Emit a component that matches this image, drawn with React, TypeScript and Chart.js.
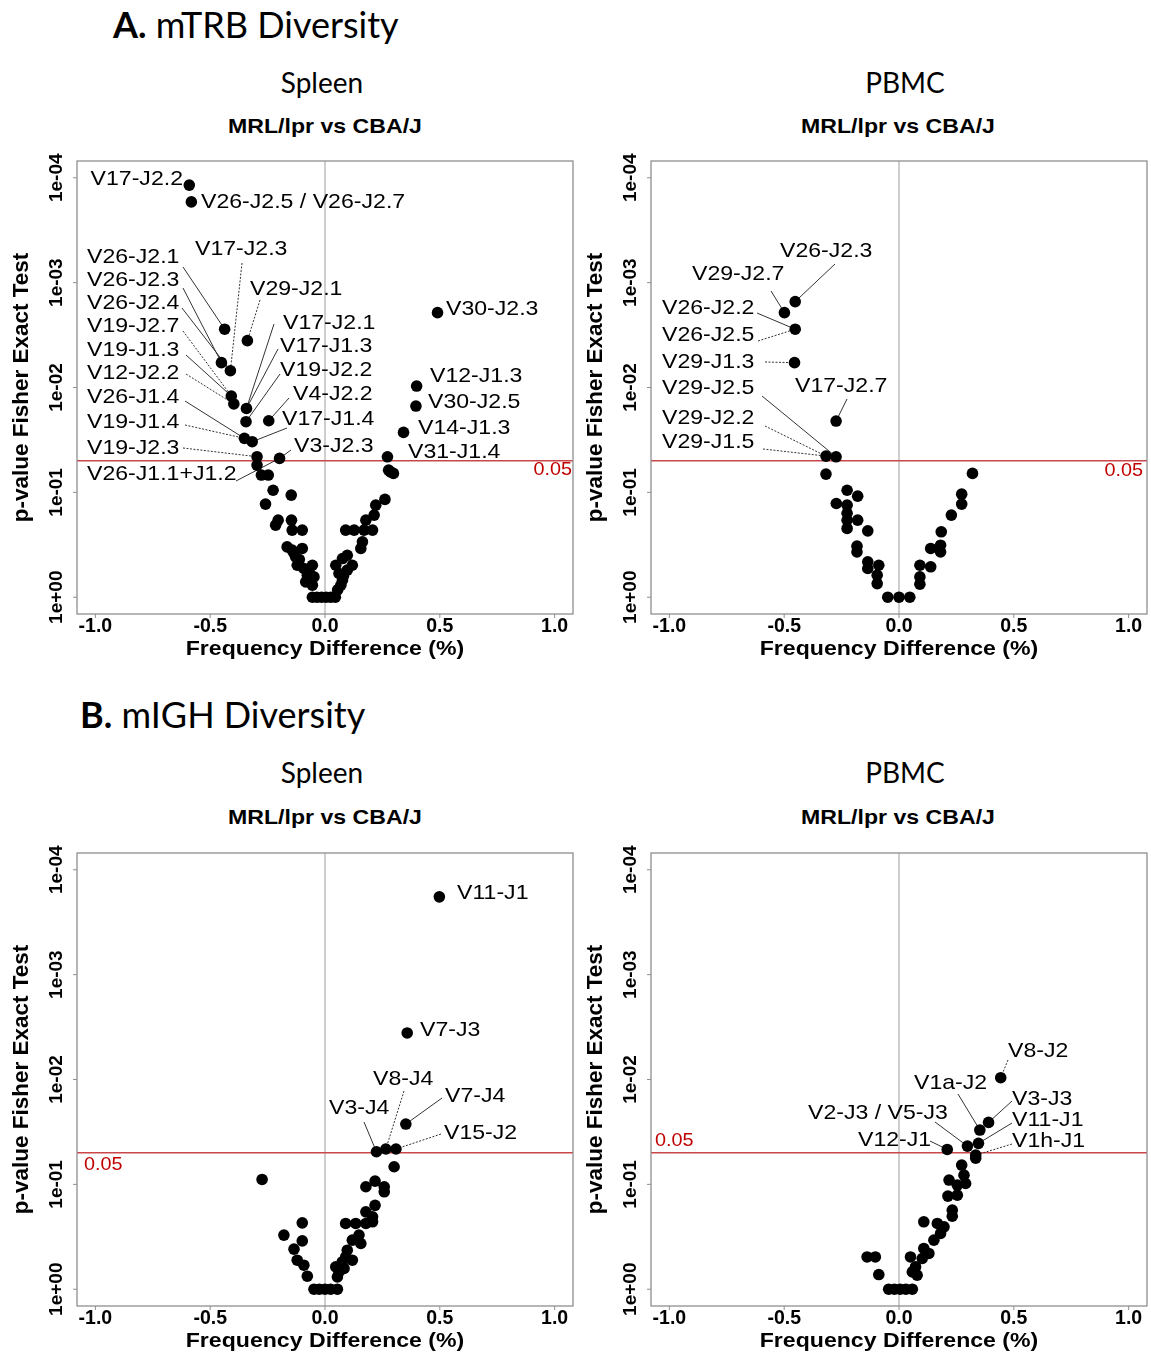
import React, { useEffect, useRef } from 'react';
import { Chart, registerables } from 'chart.js';

Chart.register(...registerables);

// ---------- axes ----------
const xTickValues = [-1, -0.5, 0, 0.5, 1];
const yTickValues = [0, 1, 2, 3, 4]; // -log10(p)
const yTickLabels = ['1e+00', '1e-01', '1e-02', '1e-03', '1e-04'];
const pThreshold = 0.05;
const xAxisTitle = 'Frequency Difference (%)';
const yAxisTitle = 'p-value Fisher Exact Test';

// ---------- A. mTRB, Spleen (frequency difference %, -log10 p) ----------
const trbSpleenDiff = [
  -0.591, -0.582, -0.437, -0.338, -0.451, -0.412, -0.408, -0.397, -0.342, -0.344,
  -0.245, -0.351, -0.317, -0.296, -0.296, -0.198, 0.49, 0.399, 0.396, 0.342, 0.272,
  -0.277, -0.247, -0.226, -0.147, -0.259, -0.204, -0.215, -0.146, -0.143, -0.099,
  -0.165, -0.143, -0.099, -0.128, -0.121, -0.092, -0.055, -0.077, -0.084, -0.048,
  -0.055, -0.112, -0.135, -0.07, -0.063,
  -0.055, -0.035, -0.015, 0.005, 0.025, 0.045,
  0.047, 0.076, 0.097, 0.119, 0.061, 0.076, 0.069, 0.097, 0.156, 0.163, 0.09, 0.127,
  0.17, 0.207, 0.178, 0.214, 0.221, 0.261, 0.277, 0.298, 0.285, 0.08, 0.055,
];
const trbSpleenNegLogP = [
  3.93, 3.77, 2.556, 2.447, 2.237, 2.16, 1.919, 1.843, 1.8, 1.674,
  1.683, 1.515, 1.483, 1.34, 1.26, 1.324, 2.714, 2.014, 1.823, 1.572, 1.339,
  1.165, 1.165, 1.02, 0.974, 0.888, 0.735, 0.687, 0.735, 0.64, 0.64,
  0.48, 0.449, 0.465, 0.385, 0.305, 0.274, 0.305, 0.21, 0.146, 0.194,
  0.115, 0.36, 0.42, 0.25, 0.16,
  0, 0, 0, 0, 0, 0,
  0.305, 0.369, 0.4, 0.305, 0.226, 0.162, 0.115, 0.258, 0.465, 0.528, 0.64, 0.64,
  0.64, 0.64, 0.735, 0.783, 0.878, 0.933, 1.212, 1.181, 1.195, 0.2, 0.07,
];

// ---------- A. mTRB, PBMC ----------
const trbPbmcDiff = [
  -0.452, -0.499, -0.452, -0.455, -0.274, -0.318, -0.274,
  -0.318, -0.226, -0.18, -0.273, -0.226, -0.226, -0.226, -0.18, -0.226, -0.136,
  -0.183, -0.183, -0.136, -0.088, -0.136, -0.095, -0.095,
  -0.049, 0, 0.047,
  0.091, 0.138, 0.091, 0.091, 0.138, 0.181, 0.181, 0.184, 0.228, 0.273, 0.273, 0.32,
];
const trbPbmcNegLogP = [
  2.819, 2.714, 2.556, 2.237, 1.68, 1.346, 1.339,
  1.174, 1.02, 0.964, 0.894, 0.878, 0.8, 0.735, 0.735, 0.656, 0.633,
  0.487, 0.432, 0.337, 0.305, 0.274, 0.21, 0.13,
  0, 0, 0,
  0.305, 0.29, 0.194, 0.124, 0.465, 0.496, 0.432, 0.624, 0.783, 0.983, 0.888, 1.181,
];

// ---------- B. mIGH, Spleen ----------
const ighSpleenDiff = [
  0.498, 0.358, 0.352, 0.224, 0.265, 0.309,
  0.301, 0.178, 0.218, 0.258, 0.258, 0.218, 0.178, 0.207, 0.207, 0.09, 0.134, 0.178,
  0.148, 0.119, 0.156, 0.097, 0.09, 0.119, 0.047, 0.061, 0.054, 0.083, 0.075,
  -0.048, -0.025, 0, 0.025, 0.054,
  -0.274, -0.099, -0.179, -0.099, -0.135, -0.121, -0.092, -0.077,
];
const ighSpleenNegLogP = [
  3.742, 2.444, 1.575, 1.311, 1.337, 1.337,
  1.168, 0.977, 1.031, 0.977, 0.929, 0.8, 0.738, 0.69, 0.643, 0.627, 0.627, 0.627,
  0.516, 0.468, 0.436, 0.372, 0.308, 0.277, 0.213, 0.165, 0.117, 0.198, 0.26,
  0, 0, 0, 0, 0,
  1.047, 0.633, 0.516, 0.461, 0.382, 0.277, 0.229, 0.124,
];

// ---------- B. mIGH, PBMC ----------
const ighPbmcDiff = [
  0.443, 0.39, 0.352, 0.346, 0.298, 0.21, 0.334,
  0.334, 0.273, 0.283, 0.218, 0.29, 0.254, 0.213, 0.254, 0.232, 0.232, 0.167, 0.108,
  0.196, 0.181, 0.152, 0.108, 0.13, 0.05, 0.101, 0.072, 0.058, 0.079,
  -0.139, -0.103, -0.088,
  -0.045, -0.02, 0.005, 0.03, 0.058,
];
const ighPbmcNegLogP = [
  2.017, 1.591, 1.518, 1.391, 1.365, 1.333, 1.279,
  1.25, 1.184, 1.088, 1.041, 1.008, 0.993, 0.888, 0.897, 0.754, 0.697, 0.627, 0.643,
  0.595, 0.532, 0.468, 0.389, 0.341, 0.308, 0.293, 0.213, 0.165, 0.134,
  0.308, 0.308, 0.14,
  0, 0, 0, 0, 0,
];

// ---------- annotation layout (page px) ----------
type Ann = { t: string; x: number; y: number; al?: CanvasTextAlign; to?: number; from?: [number, number]; dash?: boolean };

const trbSpleenAnns: Ann[] = [
  { t: 'V17-J2.2', x: 183, y: 179, al: 'right' },
  { t: 'V26-J2.5 / V26-J2.7', x: 201, y: 202 },
  { t: 'V17-J2.3', x: 195, y: 249, to: 5, from: [242, 263], dash: true },
  { t: 'V29-J2.1', x: 250, y: 289, to: 3, from: [260, 300], dash: true },
  { t: 'V26-J2.1', x: 87, y: 257, to: 2, from: [183, 267] },
  { t: 'V26-J2.3', x: 87, y: 280, to: 4, from: [183, 288] },
  { t: 'V26-J2.4', x: 87, y: 303, to: 5, from: [182, 308] },
  { t: 'V19-J2.7', x: 87, y: 326, to: 6, from: [183, 331], dash: true },
  { t: 'V19-J1.3', x: 87, y: 350, to: 6, from: [186, 355] },
  { t: 'V12-J2.2', x: 87, y: 373, to: 7, from: [186, 374], dash: true },
  { t: 'V26-J1.4', x: 87, y: 397, to: 11, from: [185, 401] },
  { t: 'V19-J1.4', x: 87, y: 422, to: 11, from: [185, 425], dash: true },
  { t: 'V19-J2.3', x: 87, y: 448, to: 13, from: [183, 448], dash: true },
  { t: 'V26-J1.1+J1.2', x: 87, y: 474, to: 15, from: [236, 481] },
  { t: 'V17-J2.1', x: 283, y: 323, to: 8, from: [274, 324] },
  { t: 'V17-J1.3', x: 280, y: 346, to: 8, from: [278, 349] },
  { t: 'V19-J2.2', x: 280, y: 370, to: 9, from: [280, 374] },
  { t: 'V4-J2.2', x: 293, y: 394, to: 10, from: [289, 398] },
  { t: 'V17-J1.4', x: 282, y: 419, to: 12, from: [287, 428] },
  { t: 'V3-J2.3', x: 294, y: 446, to: 15, from: [291, 450] },
  { t: 'V30-J2.3', x: 446, y: 309 },
  { t: 'V12-J1.3', x: 430, y: 376 },
  { t: 'V30-J2.5', x: 428, y: 402 },
  { t: 'V14-J1.3', x: 418, y: 428 },
  { t: 'V31-J1.4', x: 408, y: 452 },
];

const trbPbmcAnns: Ann[] = [
  { t: 'V26-J2.3', x: 780, y: 251, to: 0, from: [835, 264] },
  { t: 'V29-J2.7', x: 692, y: 274, to: 1, from: [771, 291] },
  { t: 'V26-J2.2', x: 662, y: 308, to: 2, from: [757, 313] },
  { t: 'V26-J2.5', x: 662, y: 335, to: 2, from: [758, 341], dash: true },
  { t: 'V29-J1.3', x: 662, y: 362, to: 3, from: [765, 362], dash: true },
  { t: 'V29-J2.5', x: 662, y: 388, to: 6, from: [762, 396] },
  { t: 'V17-J2.7', x: 795, y: 386, to: 4, from: [847, 399] },
  { t: 'V29-J2.2', x: 662, y: 418, to: 5, from: [765, 426], dash: true },
  { t: 'V29-J1.5', x: 662, y: 442, to: 5, from: [763, 449], dash: true },
];

const ighSpleenAnns: Ann[] = [
  { t: 'V11-J1', x: 457, y: 893 },
  { t: 'V7-J3', x: 420, y: 1030 },
  { t: 'V8-J4', x: 373, y: 1079, to: 4, from: [404, 1091], dash: true },
  { t: 'V3-J4', x: 329, y: 1108, to: 3, from: [364, 1122] },
  { t: 'V7-J4', x: 445, y: 1096, to: 2, from: [442, 1098] },
  { t: 'V15-J2', x: 444, y: 1133, to: 5, from: [441, 1134], dash: true },
];

const ighPbmcAnns: Ann[] = [
  { t: 'V8-J2', x: 1008, y: 1051, to: 0, from: [1008, 1060], dash: true },
  { t: 'V1a-J2', x: 914, y: 1083, to: 2, from: [958, 1094] },
  { t: 'V3-J3', x: 1012, y: 1099, to: 1, from: [1012, 1101] },
  { t: 'V2-J3 / V5-J3', x: 808, y: 1113, to: 4, from: [935, 1122] },
  { t: 'V11-J1', x: 1012, y: 1120, to: 3, from: [1012, 1123] },
  { t: 'V12-J1', x: 858, y: 1140, to: 5, from: [930, 1141] },
  { t: 'V1h-J1', x: 1012, y: 1141, to: 6, from: [1012, 1144], dash: true },
];

const FONT = '"Liberation Sans", Arial, Helvetica, sans-serif';
const SX = 1.1; // horizontal stretch of the reference lettering
const PAD_L = 77;
const PAD_T = 40;
const CW = 581;
const CH = 553;

type PanelProps = {
  left: number;
  top: number;
  xs: number[];
  ys: number[];
  anns: Ann[];
  red: { x: number; y: number; al: CanvasTextAlign };
};

function stretchText(ctx: CanvasRenderingContext2D, text: string, x: number, y: number, align: CanvasTextAlign) {
  ctx.save();
  ctx.translate(x, y);
  ctx.scale(SX, 1);
  ctx.textAlign = align;
  ctx.fillText(text, 0, 0);
  ctx.restore();
}

function Panel({ left, top, xs, ys, anns, red }: PanelProps) {
  const ref = useRef<HTMLCanvasElement | null>(null);
  useEffect(() => {
    const ox = left - PAD_L;
    const oy = top - PAD_T;
    const line = (ctx: CanvasRenderingContext2D, x1: number, y1: number, x2: number, y2: number) => {
      ctx.beginPath();
      ctx.moveTo(x1, y1);
      ctx.lineTo(x2, y2);
      ctx.stroke();
    };
    const decor = {
      id: 'decor',
      beforeDatasetsDraw(chart: any) {
        const { ctx, chartArea: ca, scales } = chart;
        ctx.save();
        const x0 = scales.x.getPixelForValue(0);
        ctx.strokeStyle = '#9d9d9d';
        ctx.lineWidth = 1;
        line(ctx, x0, ca.top, x0, ca.bottom);
        const yr = scales.y.getPixelForValue(-Math.log10(pThreshold));
        ctx.strokeStyle = '#c9474a';
        ctx.lineWidth = 1.6;
        line(ctx, ca.left, yr, ca.right, yr);
        const meta = chart.getDatasetMeta(0);
        ctx.strokeStyle = '#333';
        ctx.lineWidth = 1;
        anns.forEach((a) => {
          if (a.to == null || !a.from) return;
          const p = meta.data[a.to];
          ctx.setLineDash(a.dash ? [2, 1.5] : []);
          line(ctx, a.from[0] - ox, a.from[1] - oy, p.x, p.y);
        });
        ctx.restore();
      },
      afterDraw(chart: any) {
        const { ctx, chartArea: ca, scales } = chart;
        ctx.save();
        ctx.strokeStyle = '#8f8f8f';
        ctx.lineWidth = 1.3;
        ctx.strokeRect(ca.left, ca.top, ca.right - ca.left, ca.bottom - ca.top);
        // tick marks
        ctx.lineWidth = 1;
        yTickValues.forEach((v) => {
          const y = scales.y.getPixelForValue(v);
          line(ctx, ca.left - 4, y, ca.left, y);
        });
        xTickValues.forEach((v) => {
          const x = scales.x.getPixelForValue(v);
          line(ctx, x, ca.bottom, x, ca.bottom + 4);
        });
        // y tick labels (rotated)
        ctx.fillStyle = '#000';
        ctx.font = `bold 19px ${FONT}`;
        ctx.textAlign = 'center';
        ctx.textBaseline = 'middle';
        yTickValues.forEach((v, i) => {
          const y = scales.y.getPixelForValue(v);
          ctx.save();
          ctx.translate(ca.left - 20, y);
          ctx.rotate(-Math.PI / 2);
          ctx.fillText(yTickLabels[i], 0, 0);
          ctx.restore();
        });
        // axis titles
        ctx.font = `bold 21px ${FONT}`;
        stretchText(ctx, xAxisTitle, (ca.left + ca.right) / 2, ca.bottom + 35, 'center');
        ctx.save();
        ctx.font = `bold 22.5px ${FONT}`;
        ctx.translate(ca.left - 55, (ca.top + ca.bottom) / 2);
        ctx.rotate(-Math.PI / 2);
        ctx.fillText(yAxisTitle, 0, 0);
        ctx.restore();
        // threshold label
        ctx.font = `18px ${FONT}`;
        ctx.fillStyle = '#c00000';
        stretchText(ctx, String(pThreshold), red.x - ox, red.y - oy, red.al);
        // point labels
        ctx.fillStyle = '#000';
        ctx.font = `21px ${FONT}`;
        anns.forEach((a) => {
          stretchText(ctx, a.t, a.x - ox, a.y - oy, a.al || 'left');
        });
        ctx.restore();
      },
    };
    const chart = new Chart(ref.current as HTMLCanvasElement, {
      type: 'scatter',
      data: {
        datasets: [
          {
            data: xs.map((x, i) => ({ x, y: ys[i] })),
            pointRadius: 5.8,
            pointHoverRadius: 5.8,
            backgroundColor: '#000',
            borderWidth: 0,
          },
        ],
      },
      options: {
        animation: false,
        responsive: false,
        devicePixelRatio: 1,
        layout: { padding: { left: 0, top: PAD_T, right: CW - PAD_L - 496, bottom: 0 } },
        plugins: { legend: { display: false }, tooltip: { enabled: false }, title: { display: false } },
        scales: {
          x: {
            type: 'linear',
            min: -1.08,
            max: 1.08,
            afterBuildTicks: (s: any) => {
              s.ticks = xTickValues.map((value) => ({ value }));
            },
            afterFit: (s: any) => {
              s.height = 60;
            },
            ticks: {
              callback: (v: any) => Number(v).toFixed(1),
              font: { family: FONT, weight: 'bold', size: 19.5 },
              color: '#000',
              padding: 1,
              maxRotation: 0,
              autoSkip: false,
            },
            grid: { display: false, drawTicks: false },
            border: { display: false },
          },
          y: {
            type: 'linear',
            min: -0.16,
            max: 4.16,
            afterBuildTicks: (s: any) => {
              s.ticks = yTickValues.map((value) => ({ value }));
            },
            afterFit: (s: any) => {
              s.width = PAD_L;
            },
            ticks: { display: false },
            grid: { display: false, drawTicks: false },
            border: { display: false },
          },
        },
      },
      plugins: [decor],
    } as any);
    return () => chart.destroy();
  }, []);
  return (
    <canvas
      ref={ref}
      width={CW}
      height={CH}
      style={{ position: 'absolute', left: left - PAD_L, top: top - PAD_T, width: CW, height: CH }}
    />
  );
}

const headFont = 'Lato, "Open Sans", sans-serif';

function Txt({ x, y, children, size, bold, family, center, sx }: any) {
  return (
    <div
      style={{
        position: 'absolute',
        left: center ? x - 300 : x,
        top: y,
        width: center ? 600 : undefined,
        textAlign: center ? 'center' : 'left',
        fontFamily: family,
        fontSize: size,
        fontWeight: bold ? 'bold' : 'normal',
        lineHeight: 1,
        whiteSpace: 'nowrap',
        transform: `translateY(-50%) scaleX(${sx || 1})`,
        transformOrigin: center ? '50% 50%' : '0 50%',
        color: '#000',
      }}
    >
      {children}
    </div>
  );
}

export default function App() {
  return (
    <div style={{ position: 'absolute', left: 0, top: 0, width: 1151, height: 1356, background: '#fff', overflow: 'hidden' }}>
      <Txt x={113} y={24} size={36} family={headFont}>
        <b>A.</b> mTRB Diversity
      </Txt>
      <Txt x={80} y={714} size={36} family={headFont}>
        <b>B.</b> mIGH Diversity
      </Txt>
      <Txt x={322} y={82} size={28} family={headFont} center>Spleen</Txt>
      <Txt x={905} y={82} size={28} family={headFont} center>PBMC</Txt>
      <Txt x={325} y={125} size={21} family={FONT} bold center sx={SX}>MRL/lpr vs CBA/J</Txt>
      <Txt x={898} y={125} size={21} family={FONT} bold center sx={SX}>MRL/lpr vs CBA/J</Txt>
      <Txt x={322} y={772} size={28} family={headFont} center>Spleen</Txt>
      <Txt x={905} y={772} size={28} family={headFont} center>PBMC</Txt>
      <Txt x={325} y={816} size={21} family={FONT} bold center sx={SX}>MRL/lpr vs CBA/J</Txt>
      <Txt x={898} y={816} size={21} family={FONT} bold center sx={SX}>MRL/lpr vs CBA/J</Txt>

      <Panel left={77} top={161} xs={trbSpleenDiff} ys={trbSpleenNegLogP} anns={trbSpleenAnns} red={{ x: 572, y: 470, al: 'right' }} />
      <Panel left={651} top={161} xs={trbPbmcDiff} ys={trbPbmcNegLogP} anns={trbPbmcAnns} red={{ x: 1143, y: 471, al: 'right' }} />
      <Panel left={77} top={853} xs={ighSpleenDiff} ys={ighSpleenNegLogP} anns={ighSpleenAnns} red={{ x: 84, y: 1165, al: 'left' }} />
      <Panel left={651} top={853} xs={ighPbmcDiff} ys={ighPbmcNegLogP} anns={ighPbmcAnns} red={{ x: 655, y: 1141, al: 'left' }} />
    </div>
  );
}
